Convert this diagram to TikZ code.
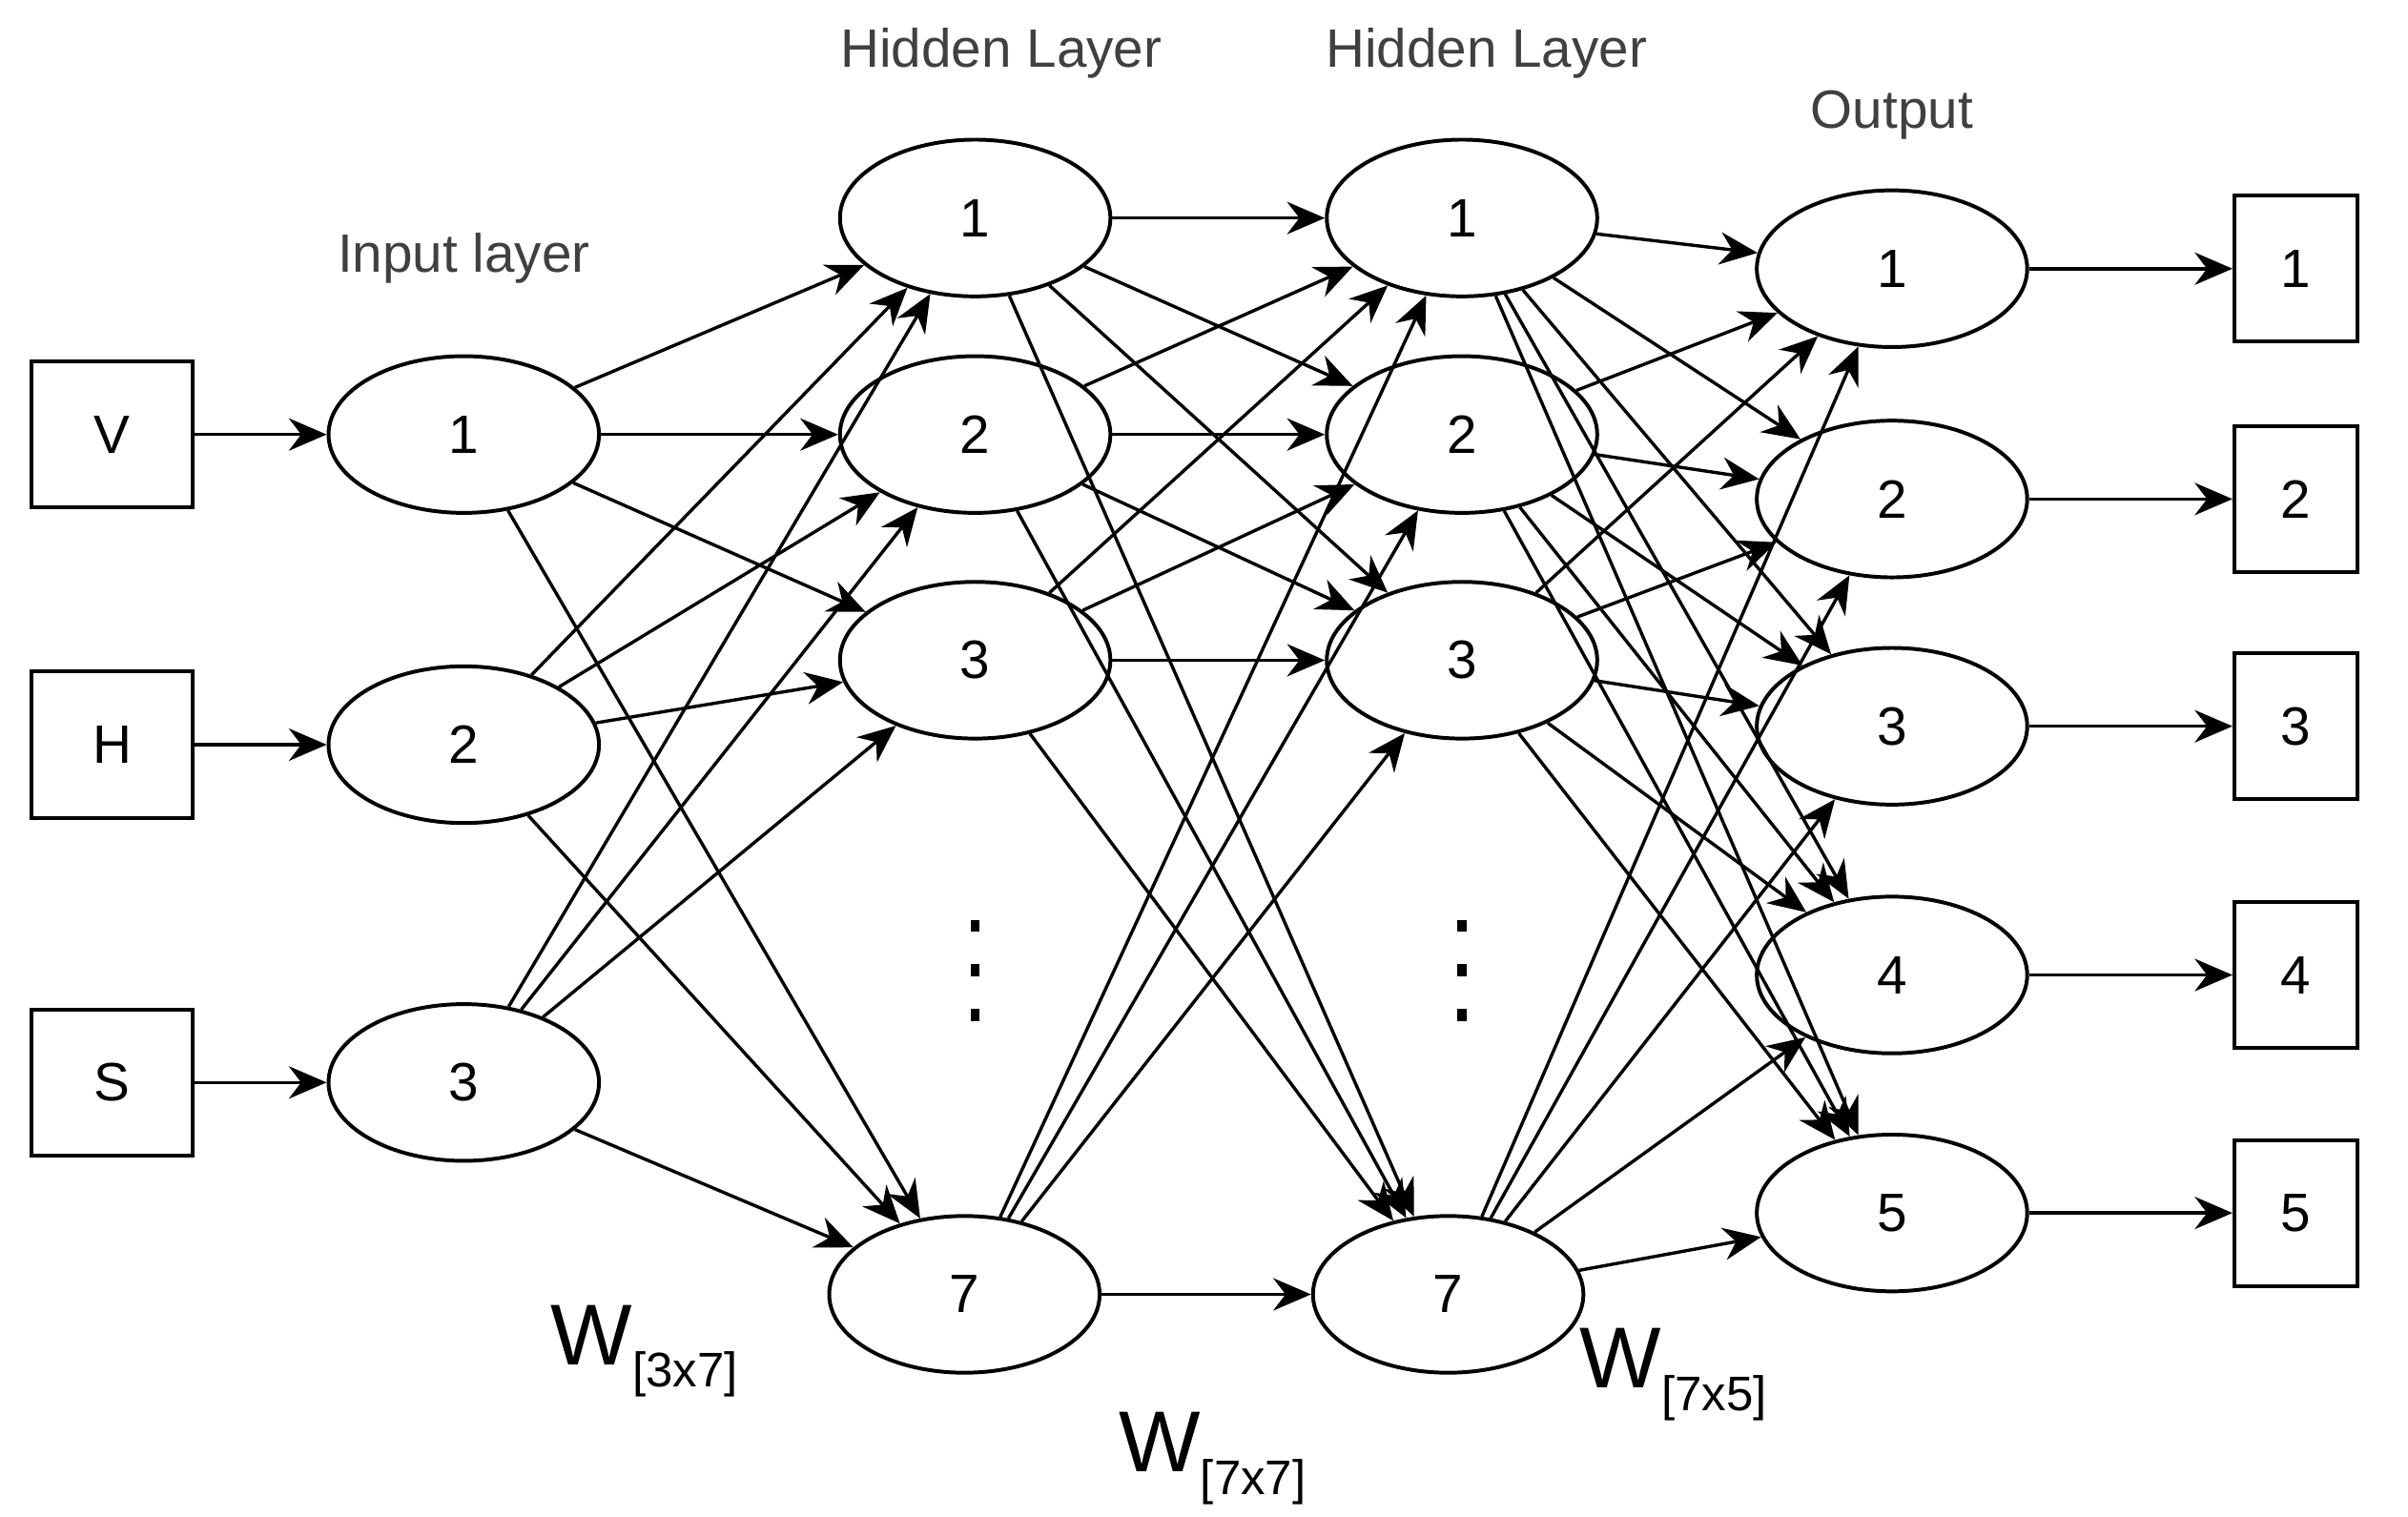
\documentclass[tikz,border=0pt]{standalone}
\usepackage{fontspec}
\setmainfont{Liberation Sans}
\usetikzlibrary{shapes.geometric,arrows.meta}
\begin{document}
\begin{tikzpicture}[x=0.01cm,y=-0.01cm,
  el/.style={draw,line width=0.7pt,ellipse,minimum width=1.76cm,minimum height=1.02cm,font=\fontsize{10}{12}\selectfont},
  bx/.style={draw,line width=0.7pt,minimum width=#1,minimum height=0.95cm,font=\fontsize{10}{12}\selectfont},
  ar/.style={-{Stealth[length=7pt,width=6pt]},line width=0.6pt},
  lab/.style={font=\fontsize{10}{12}\selectfont,text=black!75},
  wl/.style={font=\fontsize{16}{18}\selectfont,anchor=west,inner sep=0pt},
  dot/.style={fill=black,draw=none,minimum width=0.06cm,minimum height=0.08cm,inner sep=0pt}]
\useasboundingbox (0,0) rectangle (1568,988);
\node[bx=1.05cm] (V) at (73,283) {V};
\node[bx=1.05cm] (H) at (73,485) {H};
\node[bx=1.05cm] (S) at (73,705) {S};
\node[el] (i1) at (302,283) {1};
\node[el] (i2) at (302,485) {2};
\node[el] (i3) at (302,705) {3};
\foreach \n/\y in {1/142,2/283,3/430} {
  \node[el] (a\n) at (635,\y) {\n};
  \node[el] (b\n) at (952,\y) {\n};
}
\node[el] (a7) at (628,843) {7};
\node[el] (b7) at (943,843) {7};
\foreach \n/\y in {1/175,2/325,3/473,4/635,5/790} {
  \node[el] (o\n) at (1232,\y) {\n};
  \node[bx=0.8cm] (r\n) at (1495,\y) {\n};
  \draw[ar] (o\n) -- (r\n);
}
\draw[ar] (V) -- (i1);
\draw[ar] (H) -- (i2);
\draw[ar] (S) -- (i3);
\foreach \i in {1,2,3} \foreach \j in {1,2,3,7} \draw[ar] (i\i) -- (a\j);
\foreach \i in {1,2,3,7} \foreach \j in {1,2,3,7} \draw[ar] (a\i) -- (b\j);
\foreach \i in {1,2,3,7} \foreach \j in {1,2,3,4,5} \draw[ar] (b\i) -- (o\j);
\foreach \x/\k in {635/a,952/b} \foreach \y/\m in {603/1,632/2,661/3}
  \node[dot] (d\k\m) at (\x,\y) {};
\node[lab] (t1) at (302,168) {Input layer};
\node[lab] (t2) at (652,35) {Hidden Layer};
\node[lab] (t3) at (968,35) {Hidden Layer};
\node[lab] (t4) at (1232,75) {Output};
\node[wl] (w1) at (358,880) {W\raisebox{-0.5ex}{\fontsize{9}{10}\selectfont [3x7]}};
\node[wl] (w2) at (728,950) {W\raisebox{-0.5ex}{\fontsize{9}{10}\selectfont [7x7]}};
\node[wl] (w3) at (1028,895) {W\raisebox{-0.5ex}{\fontsize{9}{10}\selectfont [7x5]}};
\end{tikzpicture}
\end{document}
